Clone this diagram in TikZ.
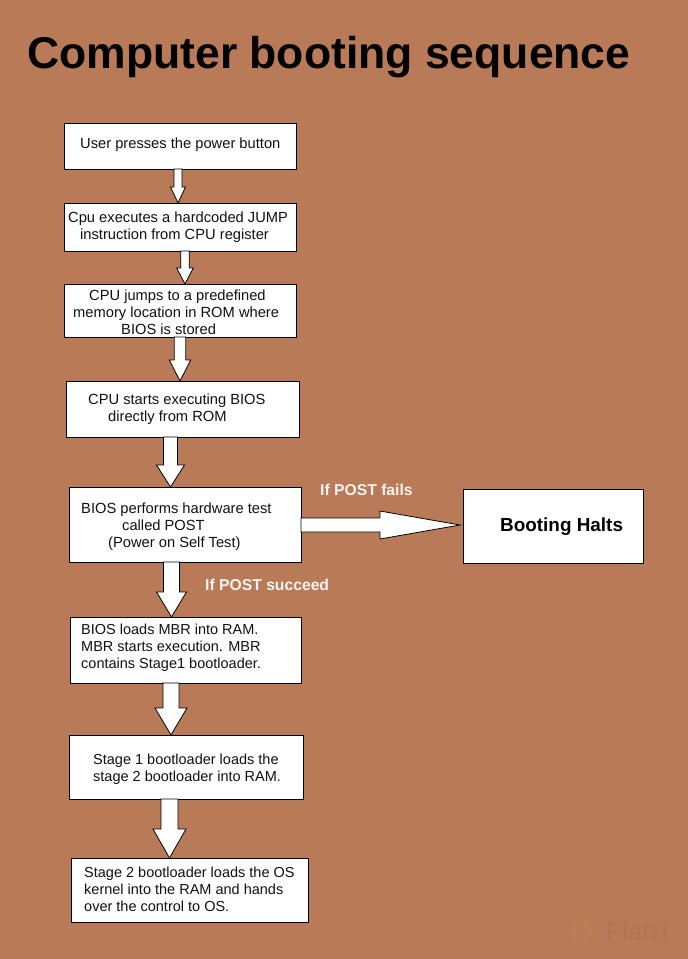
\documentclass[tikz,border=0pt]{standalone}
\usepackage{fontspec}
\setmainfont{Liberation Sans}
\usetikzlibrary{calc}
\definecolor{bgbrown}{HTML}{B97A57}
\definecolor{inkc}{HTML}{111111}
\tikzset{
  boxstyle/.style={draw=black,fill=white,line width=0.9pt},
  txt/.style={anchor=west,inner sep=0pt,align=left,text=inkc,font=\fontsize{14.7}{17}\selectfont},
  txtsmall/.style={txt,font=\fontsize{14.5}{17}\selectfont},
  blockarrow/.style={draw=black,fill=white,line width=0.8pt,line join=miter},
  whitelabel/.style={anchor=west,inner sep=0pt,text=white!92!bgbrown,font=\fontsize{15.7}{17}\selectfont\bfseries}
}
% #1 name, #2 x0, #3 y0, #4 x1, #5 y1
\newcommand\flowbox[5]{\path[boxstyle] (#2,#3) rectangle (#4,#5);
  \coordinate (#1nw) at (#2,#3); \coordinate (#1se) at (#4,#5);}
% #1 from, #2 to, #3 x axis, #4 shaft half, #5 head half, #6 head length
\newcommand\downblock[6]{\coordinate (ax) at (#3,0);
  \path[blockarrow] let \p1=(#1se -| ax), \p2=(#2nw -| ax) in
    (\x1-#4pt,\y1) -- (\x1+#4pt,\y1) -- (\x1+#4pt,\y2+#6pt) -- (\x1+#5pt,\y2+#6pt)
    -- (\x1,\y2) -- (\x1-#5pt,\y2+#6pt) -- (\x1-#4pt,\y2+#6pt) -- cycle;}
\begin{document}
\begin{tikzpicture}[x=1pt,y=-1pt]
\path[fill=bgbrown] (0,0) rectangle (688,959);
\useasboundingbox (0,0) rectangle (688,959);

\node[anchor=base west,inner sep=0pt,text=black,font=\fontsize{44.5}{50}\selectfont\bfseries] (title) at (27,68) {Computer booting sequence};

\flowbox{a}{64}{123}{296}{169}
\flowbox{b}{64}{203}{296}{251}
\flowbox{c}{64}{284}{296}{337}
\flowbox{d}{66}{381}{299}{437}
\flowbox{e}{69}{487}{301}{562}
\flowbox{f}{70}{617}{301}{683}
\flowbox{g}{69}{735}{303}{799}
\flowbox{h}{71}{858}{308}{922}
\flowbox{z}{463}{489}{643}{563}

\node[txt] (at) at (80,145) {User presses the power button};
\node[txt] (bt) at (68,227) {Cpu executes a hardcoded JUMP\\\hspace*{12pt}instruction from CPU register};
\node[txt] (ct) at (73,312) {\hspace*{16pt}CPU jumps to a predefined\\memory location in ROM where\\\hspace*{48pt}BIOS is stored};
\node[txt] (dt) at (88,409) {CPU starts executing BIOS\\\hspace*{20pt}directly from ROM};
\node[txt] (et) at (81,527) {BIOS performs hardware test\\\hspace*{41pt}called POST\\\hspace*{27pt}(Power on Self Test)};
\node[txtsmall] (ft) at (81,648) {BIOS loads MBR into RAM.\\MBR starts execution. MBR\\contains Stage1 bootloader.};
\node[txtsmall] (gt) at (93,769) {Stage 1 bootloader loads the\\stage 2 bootloader into RAM.};
\node[txtsmall] (ht) at (84,889) {Stage 2 bootloader loads the OS\\kernel into the RAM and hands\\over the control to OS.};
\node[anchor=west,inner sep=0pt,text=black,font=\fontsize{18.9}{20}\selectfont\bfseries] (zt) at (500,527) {Booting Halts};

\downblock{a}{b}{178}{4}{7.5}{16}
\downblock{b}{c}{185}{4.2}{8.3}{16}
\downblock{c}{d}{180}{5.8}{10.7}{21}
\downblock{d}{e}{170.5}{7}{14}{22}
\downblock{e}{f}{171.5}{8}{15}{25}
\downblock{f}{g}{171}{8}{16}{27}
\downblock{g}{h}{169.5}{8.5}{16.5}{29}

\coordinate (zl) at (460,525);
\coordinate (es) at (301,525);
\path[blockarrow] (es) ++(0,-7) -- (380,518) -- (380,511) -- (zl) -- (380,539) -- (380,532) -- (301,532) -- cycle;

\node[whitelabel] (lf) at (320,490) {If POST fails};
\node[whitelabel] (ls) at (205,585) {If POST succeed};

\node[anchor=west,inner sep=0pt,text=bgbrown!95!black,font=\fontsize{25}{28}\selectfont] (wm) at (606,932) {Platzi};
\path[draw=bgbrown!94!yellow,line width=2pt,line join=round] (572,932) -- (582,917) -- (593,932) -- (582,947) -- cycle;
\end{tikzpicture}
\end{document}
